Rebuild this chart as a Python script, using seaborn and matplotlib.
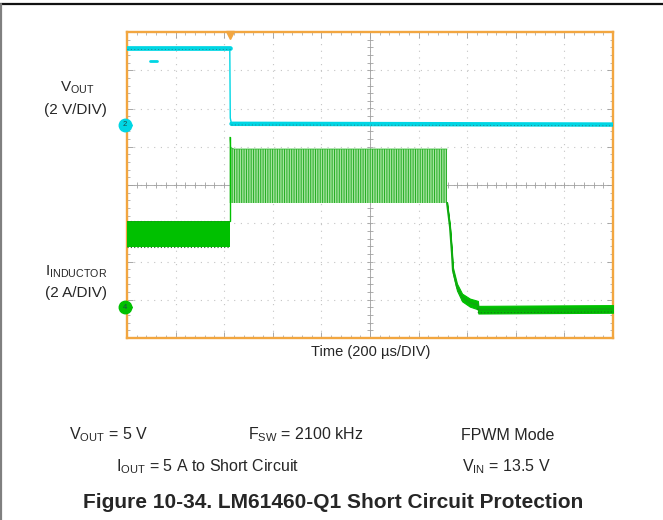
import matplotlib
matplotlib.use('Agg')
import matplotlib.pyplot as plt
from matplotlib.lines import Line2D
import numpy as np
import pandas as pd
import seaborn as sns

# Scope screen units: time in microseconds (200 us/DIV), vertical in
# divisions measured from the centre graticule line.
vout_t = [0, 423, 425, 430, 2000]
vout_div = [3.59, 3.59, 1.75, 1.60, 1.58]

# inductor current before the short (solid switching band)
il_pre_t = [0, 423]
il_pre_hi = [-0.94, -0.94]
il_pre_lo = [-1.62, -1.62]

# inductor current while in current limit (dense switching)
il_sw_t = [423, 427, 440, 1317]
il_sw_hi = [1.25, 0.98, 0.94, 0.94]
il_sw_lo = [-0.47, -0.47, -0.47, -0.47]

# inductor current decaying after shutdown
il_off_t = [1317, 1329, 1337, 1341, 1358, 1379, 1411, 1444, 1446, 2000]
il_off_hi = [-0.45, -1.06, -1.72, -2.15, -2.58, -2.84, -2.97, -3.03, -3.16, -3.14]
il_off_lo = [-0.50, -1.14, -1.84, -2.30, -2.76, -3.04, -3.18, -3.25, -3.36, -3.34]

# channel ground markers (divisions) and trigger position (us)
ch_markers = {'2': 1.57, '4': -3.19}
trigger_t = 424

CYAN = '#00d6e4'
GREEN = '#00c000'
ORANGE = '#f2a640'

sns.set_theme(style='white')
plt.rcParams['font.family'] = ['Liberation Sans', 'DejaVu Sans']
plt.rcParams['mathtext.fontset'] = 'custom'
plt.rcParams['mathtext.rm'] = 'Liberation Sans'
plt.rcParams['mathtext.it'] = 'Liberation Sans:italic'
plt.rcParams['mathtext.bf'] = 'Liberation Sans:bold'
plt.rcParams['hatch.linewidth'] = 0.7

W, H = 663, 520
fig = plt.figure(figsize=(W / 100, H / 100), dpi=100)
fig.patch.set_facecolor('white')

def px(x, y):
    return x / W, 1 - y / H

ax = fig.add_axes([127 / W, 1 - 338 / H, 486 / W, 306 / H])
ax.set_xlim(0, 2000)
ax.set_ylim(-4, 4)

# graticule
ax.set_xticks(np.arange(0, 2001, 200))
ax.set_yticks(np.arange(-4, 5, 1))
ax.set_xticks(np.arange(0, 2001, 40), minor=True)
ax.set_yticks(np.arange(-4, 4.01, 0.2), minor=True)
ax.tick_params(which='both', direction='in', colors='#9a9a9a',
               labelbottom=False, labelleft=False, top=True, right=True,
               bottom=True, left=True)
ax.tick_params(which='major', length=4, width=0.6)
ax.tick_params(which='minor', length=2.5, width=0.5)
ax.grid(which='major', color='#c4c4c4', linestyle=(0, (1, 5)), linewidth=0.8)
for s in ax.spines.values():
    s.set_color(ORANGE)
    s.set_linewidth(1.7)

ax.axhline(0, color='#a0a0a0', lw=0.6, zorder=1)
ax.axvline(1000, color='#a0a0a0', lw=0.6, zorder=1)
ax.plot(np.arange(0, 2001, 40), np.zeros(51), '|', color='#a0a0a0', ms=4, mew=0.6, zorder=1)
ax.plot(np.full(41, 1000), np.arange(-4, 4.01, 0.2), '_', color='#a0a0a0', ms=4, mew=0.6, zorder=1)

# inductor current
ax.fill_between(il_pre_t, il_pre_lo, il_pre_hi, color=GREEN, lw=0, zorder=3)
ax.plot(il_pre_t, il_pre_hi, color='#1c8a1c', lw=0.8, ls=(0, (1, 2)), zorder=4)
ax.plot(il_pre_t, il_pre_lo, color='#1c6a1c', lw=0.8, ls=(0, (1, 2)), zorder=4)
ax.fill_between(il_sw_t, il_sw_lo, il_sw_hi, facecolor='#a6e4a0', edgecolor='#22ac22',
                hatch='|||||||', lw=0, zorder=3)
ax.plot(il_sw_t, il_sw_hi, color='#30b830', lw=0.6, zorder=4)
ax.plot([il_sw_t[0]] * 2, [il_pre_hi[-1], il_sw_hi[0]], color=GREEN, lw=1, zorder=4)
ax.fill_between(il_off_t, il_off_lo, il_off_hi, color=GREEN, lw=0.8, zorder=3)
off = pd.DataFrame({'t': il_off_t, 'i': [(a + b) / 2 for a, b in zip(il_off_hi, il_off_lo)]})
sns.lineplot(data=off, x='t', y='i', ax=ax, color='#10a810', lw=1.4, zorder=4)
ax.plot(il_off_t[7:], [v + 0.02 for v in il_off_lo[7:]], color='#1c6a1c', lw=0.8,
        ls=(0, (1, 2)), zorder=5)

# output voltage: thin edge, thick settled levels
vo = pd.DataFrame({'t': vout_t, 'v': vout_div})
sns.lineplot(data=vo, x='t', y='v', ax=ax, color=CYAN, lw=1.0, zorder=6)
sns.lineplot(data=vo.iloc[:2], x='t', y='v', ax=ax, color=CYAN, lw=3.4, zorder=6)
sns.lineplot(data=vo.iloc[3:], x='t', y='v', ax=ax, color=CYAN, lw=3.2, zorder=6)
ax.plot(vout_t[:2], [v - 0.03 for v in vout_div[:2]], color='#2a7d8c', lw=0.7,
        ls=(0, (1, 2.5)), zorder=7)
ax.plot(vout_t[3:], [v - 0.03 for v in vout_div[3:]], color='#2a7d8c', lw=0.7,
        ls=(0, (1, 2.5)), zorder=7)
ax.plot([95, 125], [3.24, 3.24], color=CYAN, lw=2, zorder=6)
ax.set_xlabel('')
ax.set_ylabel('')

# ground markers and trigger
for name, lvl in ch_markers.items():
    col = CYAN if name == '2' else GREEN
    ax.plot([-8], [lvl], 'o', color=col, ms=9, clip_on=False, zorder=10)
    ax.plot([14], [lvl], '>', color=col, ms=3, clip_on=False, zorder=10)
    ax.text(-8, lvl, name, fontsize=5.5, color='#1a4a4a', ha='center', va='center',
            zorder=11, clip_on=False)
ax.plot([trigger_t], [3.93], 'v', color=ORANGE, ms=6, clip_on=False, zorder=10)

# labels
fig.text(*px(77, 88), r'V$_{\mathrm{OUT}}$', fontsize=11, ha='center', va='center')
fig.text(*px(75, 110), '(2 V/DIV)', fontsize=11, ha='center', va='center')
fig.text(*px(76, 272), r'I$_{\mathrm{INDUCTOR}}$', fontsize=11, ha='center', va='center')
fig.text(*px(76, 293), '(2 A/DIV)', fontsize=11, ha='center', va='center')
fig.text(*px(371, 352), 'Time (200 µs/DIV)', fontsize=10.5, ha='center', va='center')

fig.text(*px(109, 435), r'V$_{\mathrm{OUT}}$ = 5 V', fontsize=11.5, ha='center', va='center')
fig.text(*px(306, 435), r'F$_{\mathrm{SW}}$ = 2100 kHz', fontsize=11.5, ha='center', va='center')
fig.text(*px(508, 435), 'FPWM Mode', fontsize=11.5, ha='center', va='center')
fig.text(*px(208, 467), r'I$_{\mathrm{OUT}}$ = 5 A to Short Circuit', fontsize=11.5,
         ha='center', va='center')
fig.text(*px(506, 467), r'V$_{\mathrm{IN}}$ = 13.5 V', fontsize=11.5, ha='center', va='center')
fig.text(*px(333, 503), 'Figure 10-34. LM61460-Q1 Short Circuit Protection', fontsize=15,
         fontweight='bold', ha='center', va='center')

# page border lines
fig.add_artist(Line2D([0, 1], [1 - 3.5 / H] * 2, color='#111111', lw=1.6))
fig.add_artist(Line2D([1 / W] * 2, [0, 1 - 3.5 / H], color='#808080', lw=1.6))

fig.savefig('out.png', dpi=100, facecolor='white')
